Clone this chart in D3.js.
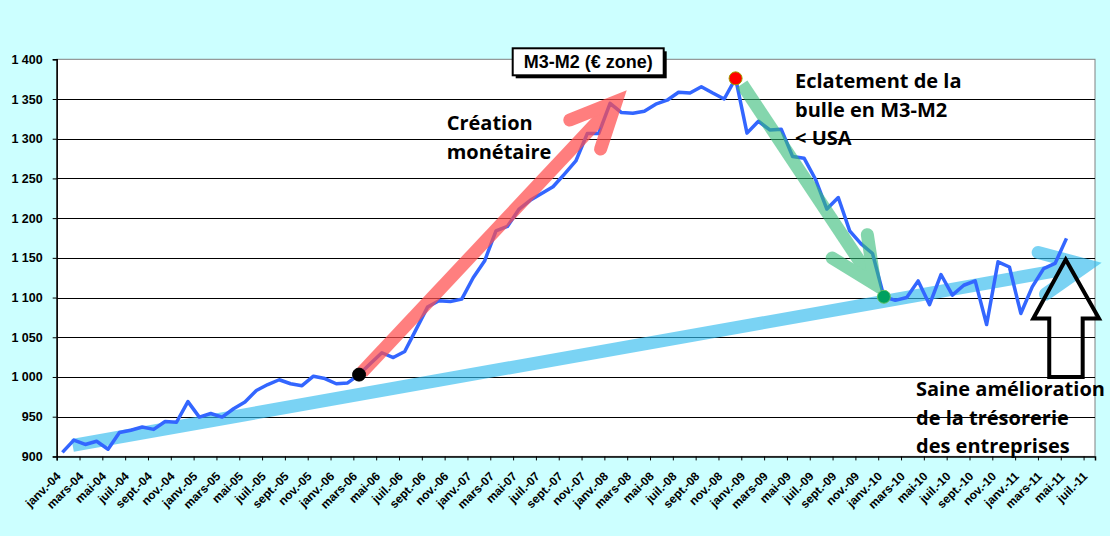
<!DOCTYPE html>
<html>
<head>
<meta charset="utf-8">
<script src="https://cdn.jsdelivr.net/npm/d3@7"></script>
<style>
  html, body { margin: 0; padding: 0; background: #ccffff; }
  svg { display: block; }
</style>
</head>
<body>
<div id="chart"></div>
<script>
// M3-M2, zone euro, monthly, janv. 2004 -> mai 2011
var monthNames = ["janv.", "févr.", "mars", "avr.", "mai", "juin", "juil.", "août", "sept.", "oct.", "nov.", "déc."];
var years = ["04", "05", "06", "07", "08", "09", "10", "11"];
var categories = [];
years.forEach(function(yr) {
  monthNames.forEach(function(m) { categories.push(m + "-" + yr); });
});
categories = categories.slice(0, 91); // janv.-04 .. juil.-11

var m3m2 = [
  905, 920.5, 915, 919, 909, 930, 933, 937, 934, 944, 943, 969,
  949.5, 954, 949.5, 960, 968.5, 983, 990.5, 996.5, 991.5, 989, 1001, 998,
  991.5, 992.5, 1003, 1017, 1030.5, 1024.5, 1032, 1060, 1088, 1096, 1095, 1098,
  1125, 1146, 1184, 1189.5, 1211, 1222.5, 1231, 1239.5, 1255.5, 1272, 1306.5, 1306.5,
  1344.5, 1333, 1332, 1334.5, 1343.5, 1348.5, 1358.5, 1357.5, 1365.5, 1357.5, 1350, 1376,
  1307, 1322, 1311, 1312, 1277.5, 1275.5, 1249, 1211.5, 1226, 1184, 1167.5, 1155.5,
  1101, 1096.5, 1100, 1121, 1091, 1129, 1103, 1115.5, 1121, 1066, 1145, 1138.5,
  1080, 1113.5, 1136.5, 1143, 1174.5
];

var yTicks = [900, 950, 1000, 1050, 1100, 1150, 1200, 1250, 1300, 1350, 1400];

// highlighted points (category index)
var dotIndex = [26, 59, 72];
var dotFill = ["#000000", "#ff0000", "#00a060"];
var dotStroke = ["#000000", "#a0a000", "#60c060"];

// annotation arrows: [position on category axis, value]
var arrowFrom = [[26.76, 1005.9], [60.06, 1368.8], [1.4, 913.9]];
var arrowTo = [[49.96, 1361], [72.45, 1100.8], [91.58, 1143.9]];
var arrowColor = ["#ff4d4d", "#33bb77", "#33bbee"];
var arrowOpacity = [0.72, 0.6, 0.65];

// hollow "up" arrow outline, [position, value]
var upArrow = [[88.43, 1147.9], [91.35, 1073.5], [89.92, 1073.5], [89.92, 1000],
               [86.99, 1000], [86.99, 1073.5], [85.59, 1073.5]];

var notes = [
  {lines: ["Création", "monétaire"], pos: 34.18, value: 1310.8},
  {lines: ["Eclatement de la", "bulle en M3-M2", "< USA"], pos: 64.71, value: 1363.4},
  {lines: ["Saine amélioration", "de la trésorerie", "des entreprises"], pos: 75.31, value: 976}
];

var width = 1110, height = 536;
var margin = {top: 59.3, right: 15, bottom: 80, left: 56.7};
var plotRight = width - margin.right;
var plotBottom = 456.4;

var svg = d3.select("#chart").append("svg")
    .attr("width", width)
    .attr("height", height)
    .style("background", "#ccffff");

var x = d3.scaleBand()
    .domain(categories)
    .range([margin.left, plotRight])
    .padding(0);

var xi = d3.scaleLinear()
    .domain([0, categories.length])
    .range([margin.left, plotRight]);

var y = d3.scaleLinear()
    .domain([900, 1400])
    .range([plotBottom, margin.top]);

var fmt = d3.formatLocale({decimal: ",", thousands: " ", grouping: [3], currency: ["", " €"]}).format(",");

// plot area
svg.append("rect")
    .attr("x", margin.left)
    .attr("y", margin.top)
    .attr("width", plotRight - margin.left)
    .attr("height", plotBottom - margin.top)
    .attr("fill", "#ffffff")
    .attr("stroke", "#808080")
    .attr("stroke-width", 1);

// gridlines
svg.append("g").selectAll("line")
    .data(yTicks.slice(1, -1))
    .enter().append("line")
    .attr("x1", margin.left)
    .attr("x2", plotRight)
    .attr("y1", function(d) { return Math.round(y(d)) + 0.5; })
    .attr("y2", function(d) { return Math.round(y(d)) + 0.5; })
    .attr("stroke", "#000")
    .attr("stroke-width", 1);

// y axis
var yAxis = d3.axisLeft(y)
    .tickValues(yTicks)
    .tickSize(4)
    .tickPadding(10)
    .tickFormat(fmt);

var yG = svg.append("g")
    .attr("transform", "translate(" + margin.left + ",0)")
    .call(yAxis);
yG.select(".domain").attr("stroke", "#000").attr("stroke-width", 1.5);
yG.selectAll("line").attr("stroke", "#000");
yG.selectAll("text")
    .style("font-family", "'Liberation Sans', Arial, sans-serif")
    .style("font-weight", "bold")
    .style("font-size", "12.5px")
    .attr("fill", "#000");

// x axis ticks at every second category boundary
var xAxis = d3.axisBottom(xi)
    .tickValues(d3.range(0, categories.length, 2))
    .tickSize(4)
    .tickFormat("");

var xG = svg.append("g")
    .attr("transform", "translate(0," + plotBottom + ")")
    .call(xAxis);
xG.select(".domain").attr("stroke", "#000").attr("stroke-width", 1.5);
xG.selectAll("line").attr("stroke", "#000");

// x labels
svg.append("g").selectAll("text")
    .data(categories.filter(function(d, i) { return i % 2 === 0; }))
    .enter().append("text")
    .attr("transform", function(d) {
      return "translate(" + (x(d) + x.bandwidth() / 2 - 4) + "," + 474 + ") rotate(-45)";
    })
    .attr("text-anchor", "end")
    .attr("dy", "0.35em")
    .style("font-family", "'Liberation Sans', Arial, sans-serif")
    .style("font-weight", "bold")
    .style("font-size", "12px")
    .attr("fill", "#000")
    .text(function(d) { return d; });

function px(p) { return [xi(p[0]), y(p[1])]; }

function drawArrow(i) {
  var tip = px(arrowTo[i]), start = px(arrowFrom[i]);
  var w = 13, half = 25 * Math.PI / 180, len = 50;
  var ang = Math.atan2(start[1] - tip[1], start[0] - tip[0]);
  var back = (w / 2) / Math.sin(half);
  var v = [tip[0] + back * Math.cos(ang), tip[1] + back * Math.sin(ang)];
  var w1 = [v[0] + len * Math.cos(ang + half), v[1] + len * Math.sin(ang + half)];
  var w2 = [v[0] + len * Math.cos(ang - half), v[1] + len * Math.sin(ang - half)];
  var g = svg.append("g").attr("opacity", arrowOpacity[i]);
  g.append("path")
      .attr("d", d3.line()([start, v]))
      .attr("fill", "none")
      .attr("stroke", arrowColor[i])
      .attr("stroke-width", w)
      .attr("stroke-linecap", "butt");
  g.append("path")
      .attr("d", d3.line()([w1, v, w2]))
      .attr("fill", "none")
      .attr("stroke", arrowColor[i])
      .attr("stroke-width", w)
      .attr("stroke-linecap", "round")
      .attr("stroke-linejoin", "miter");
}

// blue trend arrow under the series
drawArrow(2);

var line = d3.line()
    .x(function(d, i) { return x(categories[i]) + x.bandwidth() / 2; })
    .y(function(d) { return y(d); });

svg.append("path")
    .datum(m3m2)
    .attr("d", line)
    .attr("fill", "none")
    .attr("stroke", "#3366ff")
    .attr("stroke-width", 3.5)
    .attr("stroke-linejoin", "round");

drawArrow(0);
drawArrow(1);

svg.append("path")
    .attr("d", d3.line()(upArrow.map(px)) + "Z")
    .attr("fill", "none")
    .attr("stroke", "#000")
    .attr("stroke-width", 4)
    .attr("stroke-linejoin", "miter");

svg.append("g").selectAll("circle")
    .data(dotIndex)
    .enter().append("circle")
    .attr("cx", function(d) { return x(categories[d]) + x.bandwidth() / 2; })
    .attr("cy", function(d) { return y(m3m2[d]); })
    .attr("r", 6.5)
    .attr("fill", function(d, i) { return dotFill[i]; })
    .attr("stroke", function(d, i) { return dotStroke[i]; })
    .attr("stroke-width", 1);

// text notes
notes.forEach(function(n) {
  var t = svg.append("text")
      .attr("x", xi(n.pos))
      .attr("y", y(n.value))
      .style("font-family", "'Open Sans', sans-serif")
      .style("font-weight", "bold")
      .style("font-size", "20px")
      .attr("fill", "#000");
  n.lines.forEach(function(l, k) {
    t.append("tspan")
        .attr("x", xi(n.pos))
        .attr("dy", k === 0 ? 0 : 28.5)
        .text(l);
  });
});

// title box
var title = svg.append("g").attr("transform", "translate(512.7,48.3)");
title.append("rect")
    .attr("x", 3).attr("y", 3)
    .attr("width", 151).attr("height", 27)
    .attr("fill", "#000");
title.append("rect")
    .attr("width", 151).attr("height", 27)
    .attr("fill", "#fff")
    .attr("stroke", "#000")
    .attr("stroke-width", 2);
title.append("text")
    .attr("x", 75.5).attr("y", 20)
    .attr("text-anchor", "middle")
    .style("font-family", "'Liberation Sans', Arial, sans-serif")
    .style("font-weight", "bold")
    .style("font-size", "18px")
    .attr("fill", "#000")
    .text("M3-M2 (€ zone)");
</script>
</body>
</html>
